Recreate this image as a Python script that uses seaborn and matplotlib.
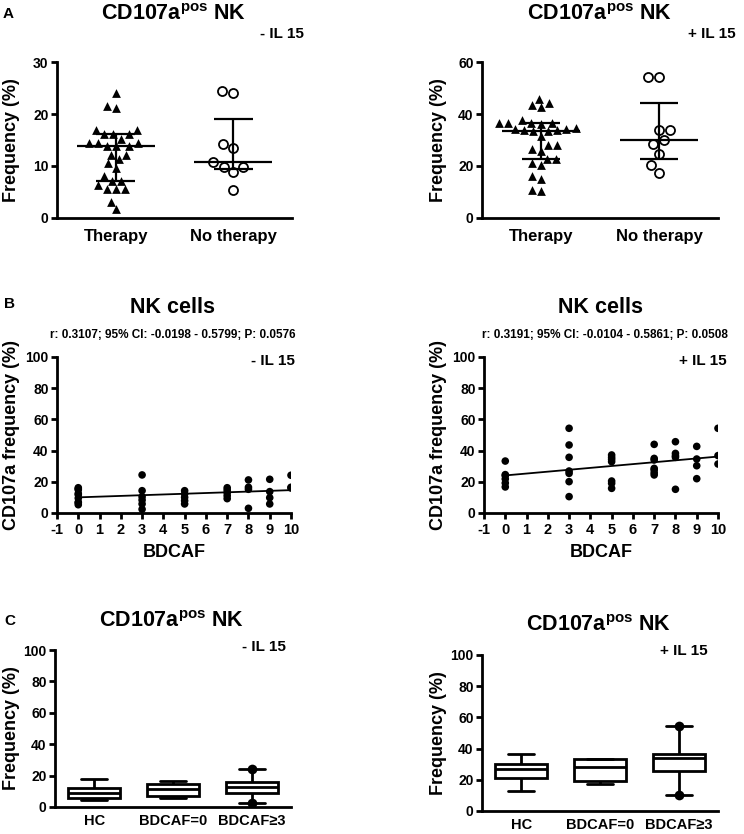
import numpy as np
import pandas as pd
import matplotlib
matplotlib.use("Agg")
import matplotlib.pyplot as plt
import seaborn as sns

# ---------------- data ----------------
a_groups = ["Therapy", "No therapy"]
a_minus_therapy = [24.0, 21.2, 21.6, 16.9, 16.9, 16.1, 16.1, 16.1, 15.2, 14.4, 14.4, 14.4,
                   13.8, 13.8, 13.8, 12.2, 12.2, 11.3, 10.6, 9.7, 8.0, 7.1, 7.1, 6.4,
                   5.6, 5.6, 5.6, 3.1, 1.7]
a_minus_notherapy = [24.0, 24.5, 14.2, 13.5, 10.8, 9.9, 9.9, 8.8, 5.3]
a_plus_therapy = [45.9, 44.1, 43.6, 42.6, 37.8, 36.5, 36.5, 36.3, 36.5, 36.6, 34.6, 34.4,
                  34.2, 34.0, 33.8, 33.5, 33.3, 31.4, 27.9, 27.9, 25.6, 26.5, 22.8, 22.8,
                  21.2, 20.3, 16.0, 15.0, 10.9, 10.5]
a_plus_notherapy = [54.1, 54.1, 34.0, 34.0, 30.1, 28.3, 24.7, 20.3, 17.3]

b_minus_bdcaf = [0, 0, 0, 0, 0, 0, 0, 0, 0,
                 3, 3, 3, 3, 3, 3,
                 5, 5, 5, 5, 5,
                 7, 7, 7, 7, 7,
                 8, 8, 8, 8,
                 9, 9, 9, 9,
                 10, 10, 10]
b_minus_freq = [16.2, 15.5, 14.9, 12.5, 11.7, 9.5, 7.0, 6.5, 5.3,
                24.4, 14.3, 10.4, 8.3, 5.8, 2.4,
                14.3, 12.2, 10.0, 7.9, 5.8,
                16.2, 14.7, 13.0, 11.1, 9.2,
                21.2, 16.5, 15.2, 3.0,
                21.6, 13.7, 9.8, 5.8,
                24.2, 16.5, 16.0]
b_plus_bdcaf = [0, 0, 0, 0, 0, 0,
                3, 3, 3, 3, 3, 3, 3,
                5, 5, 5, 5, 5, 5, 5,
                7, 7, 7, 7, 7, 7, 7,
                8, 8, 8, 8, 8,
                9, 9, 9, 9,
                10, 10, 10]
b_plus_freq = [33.3, 24.6, 23.9, 21.8, 19.2, 16.7,
               54.3, 43.6, 35.7, 26.9, 25.4, 20.1, 10.5,
               37.2, 35.7, 34.4, 32.9, 20.5, 19.0, 15.8,
               44.0, 35.0, 34.0, 28.6, 27.6, 25.8, 24.4,
               45.7, 38.2, 36.7, 35.7, 15.2,
               42.7, 34.6, 30.3, 22.0,
               54.3, 36.8, 31.4]
b_minus_stats = "r: 0.3107; 95% CI: -0.0198 - 0.5799; P: 0.0576"
b_plus_stats = "r: 0.3191; 95% CI: -0.0104 - 0.5861; P: 0.0508"

c_groups = ["HC", "BDCAF=0", "BDCAF\u22653"]
c_minus_hc = [4.7, 5.3, 6.0, 7.5, 9.1, 10.5, 12.3, 14.0, 17.7]
c_minus_bd0 = [5.5, 6.8, 11.7, 14.9, 16.4]
c_plus_hc = [12.6, 18.0, 21.2, 24.5, 27.2, 29.0, 30.4, 33.0, 36.8]
c_plus_bd0 = [17.3, 19.5, 28.3, 33.4, 33.5]

# ---------------- style ----------------
sns.set_style("ticks")
plt.rcParams.update({
    "font.family": ["Liberation Sans", "DejaVu Sans"],
    "font.weight": "bold",
    "axes.labelweight": "bold",
    "axes.linewidth": 2,
    "axes.edgecolor": "black",
    "axes.unicode_minus": False,
    "xtick.color": "black", "ytick.color": "black",
    "xtick.major.width": 2, "ytick.major.width": 2,
    "xtick.major.size": 4, "ytick.major.size": 4,
    "xtick.major.pad": 2, "ytick.major.pad": 2,
    "text.color": "black", "axes.labelcolor": "black",
    "mathtext.fontset": "custom",
    "mathtext.rm": "Liberation Sans",
    "mathtext.it": "Liberation Sans:italic",
    "mathtext.bf": "Liberation Sans:bold",
})

W, H = 744, 834
fig = plt.figure(figsize=(W / 100, H / 100), dpi=100)


def add_ax(x0, y_top, x1, y_bot):
    ax = fig.add_axes([x0 / W, 1 - y_bot / H, (x1 - x0) / W, (y_bot - y_top) / H])
    ax._px = (x0, x1)
    return ax


def ftext(x, y, s, **kw):
    kw.setdefault("fontweight", "bold")
    fig.text(x / W, 1 - y / H, s, **kw)


def place_ylabel(ax, anchor_px):
    x0, x1 = ax._px
    ax.yaxis.set_label_coords((anchor_px - x0) / (x1 - x0), 0.5)


title_cd = r"CD107a$^{\rm pos}$ NK"


def style_axis(ax):
    sns.despine(ax=ax)
    ax.tick_params(axis="y", labelsize=10)
    for lab in ax.get_yticklabels() + ax.get_xticklabels():
        lab.set_fontweight("bold")


def panel_a(ax, ther, noth, ymax, yticks):
    df = pd.DataFrame({"group": [a_groups[0]] * len(ther) + [a_groups[1]] * len(noth),
                       "value": ther + noth})
    sns.swarmplot(data=df[df.group == a_groups[0]], x="group", y="value", order=a_groups,
                  marker="^", color="black", size=6.3, ax=ax)
    sns.swarmplot(data=df[df.group == a_groups[1]], x="group", y="value", order=a_groups,
                  marker="o", color="white", edgecolor="black", linewidth=1.3, size=6.5, ax=ax)
    for i, g in enumerate(a_groups):
        vals = df.loc[df.group == g, "value"].values
        q1, med, q3 = np.percentile(vals, [25, 50, 75], method="weibull")
        ax.hlines(med, i - 0.33, i + 0.33, color="black", lw=1.6, zorder=5)
        ax.hlines([q1, q3], i - 0.165, i + 0.165, color="black", lw=1.6, zorder=5)
        ax.vlines(i, q1, q3, color="black", lw=1.6, zorder=5)
    ax.set_xlim(-0.5, 1.5)
    ax.set_ylim(0, ymax)
    ax.set_yticks(yticks)
    ax.set_xlabel("")
    ax.set_ylabel("Frequency (%)", fontsize=13)
    ax.tick_params(axis="x", length=0, labelsize=12, pad=8)
    style_axis(ax)


def panel_b(ax, xs, ys):
    df = pd.DataFrame({"BDCAF": xs, "freq": ys})
    sns.regplot(data=df, x="BDCAF", y="freq", ci=None, ax=ax,
                scatter_kws=dict(s=30, color="black", edgecolors="none", alpha=1),
                line_kws=dict(color="black", lw=1.3))
    ax.set_xlim(-1, 10)
    ax.set_ylim(0, 100)
    ax.set_xticks(range(-1, 11))
    ax.set_yticks(range(0, 101, 20))
    ax.set_xlabel("BDCAF", fontsize=13, labelpad=5)
    ax.set_ylabel("CD107a frequency (%)", fontsize=13)
    ax.tick_params(axis="x", labelsize=10.5, pad=3)
    style_axis(ax)


def panel_c(ax, hc, bd0, xs, ys):
    bd3 = [y for x, y in zip(xs, ys) if x >= 3]
    df = pd.DataFrame({"group": [c_groups[0]] * len(hc) + [c_groups[1]] * len(bd0)
                       + [c_groups[2]] * len(bd3),
                       "value": hc + bd0 + bd3})
    sns.boxplot(data=df, x="group", y="value", order=c_groups, color="white",
                linecolor="black", linewidth=2, width=0.66, whis=(0, 100),
                showfliers=False, ax=ax)
    ext = pd.DataFrame({"group": [c_groups[2]] * 2, "value": [min(bd3), max(bd3)]})
    sns.stripplot(data=ext, x="group", y="value", order=c_groups, jitter=False,
                  color="black", size=7, ax=ax, zorder=6)
    ax.set_xlim(-0.5, 2.5)
    ax.set_ylim(0, 100)
    ax.set_yticks(range(0, 101, 20))
    ax.set_xlabel("")
    ax.set_ylabel("Frequency (%)", fontsize=13)
    ax.tick_params(axis="x", length=0, labelsize=10.5, pad=5)
    style_axis(ax)


# ---------------- panel A ----------------
axA1 = add_ax(57, 62, 292, 218)
panel_a(axA1, a_minus_therapy, a_minus_notherapy, 30, [0, 10, 20, 30])
place_ylabel(axA1, 20)
axA2 = add_ax(482, 62, 718, 218)
panel_a(axA2, a_plus_therapy, a_plus_notherapy, 60, [0, 20, 40, 60])
place_ylabel(axA2, 447)
ftext(3, 18, "A", fontsize=11)
ftext(174, 20, title_cd, fontsize=15.5, ha="center", va="baseline")
ftext(600, 20, title_cd, fontsize=15.5, ha="center", va="baseline")
ftext(304, 38, "- IL 15", fontsize=11, ha="right", va="baseline")
ftext(736, 38, "+ IL 15", fontsize=11, ha="right", va="baseline")

# ---------------- panel B ----------------
axB1 = add_ax(57, 357, 291, 513)
panel_b(axB1, b_minus_bdcaf, b_minus_freq)
place_ylabel(axB1, 20)
axB2 = add_ax(484, 357, 718, 513)
panel_b(axB2, b_plus_bdcaf, b_plus_freq)
place_ylabel(axB2, 447)
ftext(4, 308, "B", fontsize=11)
ftext(172, 313, "NK cells", fontsize=15.5, ha="center", va="baseline")
ftext(600, 313, "NK cells", fontsize=15.5, ha="center", va="baseline")
ftext(173, 338, b_minus_stats, fontsize=8.5, ha="center", va="baseline")
ftext(605, 338, b_plus_stats, fontsize=8.5, ha="center", va="baseline")
ftext(295, 365, "- IL 15", fontsize=11, ha="right", va="baseline")
ftext(727, 365, "+ IL 15", fontsize=11, ha="right", va="baseline")

# ---------------- panel C ----------------
axC1 = add_ax(55, 650, 291, 807)
panel_c(axC1, c_minus_hc, c_minus_bd0, b_minus_bdcaf, b_minus_freq)
place_ylabel(axC1, 20)
axC2 = add_ax(482, 655, 718, 811)
panel_c(axC2, c_plus_hc, c_plus_bd0, b_plus_bdcaf, b_plus_freq)
place_ylabel(axC2, 447)
ftext(4, 625, "C", fontsize=11)
ftext(172, 627, title_cd, fontsize=15.5, ha="center", va="baseline")
ftext(599, 631, title_cd, fontsize=15.5, ha="center", va="baseline")
ftext(286, 651, "- IL 15", fontsize=11, ha="right", va="baseline")
ftext(708, 655, "+ IL 15", fontsize=11, ha="right", va="baseline")

fig.savefig("out.png", dpi=100)
